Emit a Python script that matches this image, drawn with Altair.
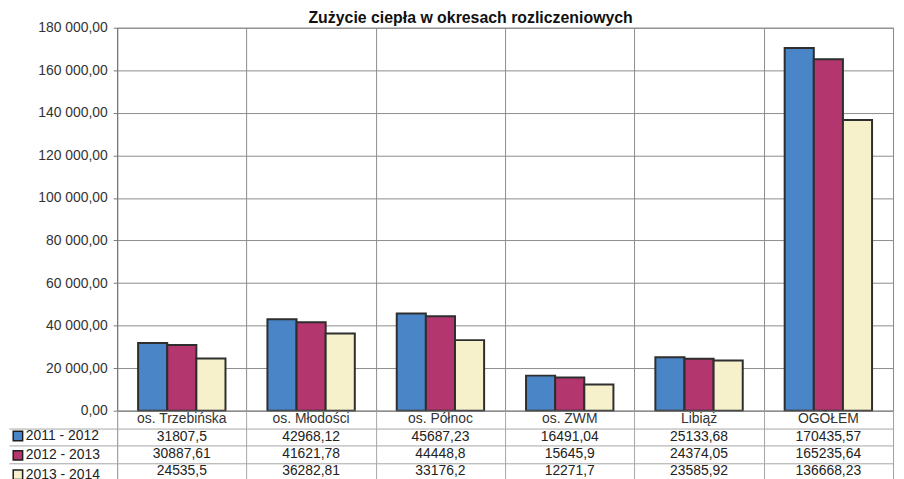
import altair as alt
import pandas as pd

title_text = "Zużycie ciepła w okresach rozliczeniowych"
categories = ["os. Trzebińska", "os. Młodości", "os. Północ", "os. ZWM", "Libiąż", "OGÓŁEM"]
periods = ["2011 - 2012", "2012 - 2013", "2013 - 2014"]
values_2011_2012 = [31807.5, 42968.12, 45687.23, 16491.04, 25133.68, 170435.57]
values_2012_2013 = [30887.61, 41621.78, 44448.8, 15645.9, 24374.05, 165235.64]
values_2013_2014 = [24535.5, 36282.81, 33176.2, 12271.7, 23585.92, 136668.23]
y_ticks = [0, 20000, 40000, 60000, 80000, 100000, 120000, 140000, 160000, 180000]
colors = ["#4A86C7", "#B3366F", "#F6F1CA"]
header_key = "obiekt"

rows = []
for period, vals in zip(periods, [values_2011_2012, values_2012_2013, values_2013_2014]):
    for cat, v in zip(categories, vals):
        rows.append({"obiekt": cat, "okres": period, "wiersz": period, "wartosc": v})
df = pd.DataFrame(rows)
header_df = pd.DataFrame({"obiekt": categories, "wiersz": [header_key] * len(categories)})
row_domain = [header_key] + periods

FONT = "Liberation Sans"
GRID = "#8c8c8c"
LINE = "#a6a6a6"

PLOT_H = 386
ROW_H = 17.5

cat_scale = alt.Scale(domain=categories, paddingInner=0, paddingOuter=0)

bars = alt.Chart(df).mark_bar(stroke="#2e2e2e", strokeWidth=2).encode(
    x=alt.X("obiekt:N", title=None, sort=categories, scale=cat_scale,
            axis=alt.Axis(labels=False, ticks=False, domain=False, grid=True,
                          tickBand="extent", gridColor=GRID, gridOpacity=1)),
    xOffset=alt.XOffset("okres:N", sort=periods,
                        scale=alt.Scale(domain=periods, paddingInner=0, paddingOuter=0.72)),
    y=alt.Y("wartosc:Q", title=None, scale=alt.Scale(domain=[0, 180000], nice=False),
            axis=alt.Axis(values=y_ticks, format=",.2f", labelFontSize=14, labelColor="#333",
                          tickSize=4, tickColor="#777", domainColor="#777",
                          gridColor=GRID, gridOpacity=1, labelPadding=6)),
    color=alt.Color("okres:N", sort=periods, scale=alt.Scale(domain=periods, range=colors),
                    legend=alt.Legend(title=None, orient="none", legendX=-107,
                                      legendY=PLOT_H + ROW_H + 1,
                                      symbolType="square", symbolSize=90,
                                      symbolStrokeColor="#1e1e1e", symbolStrokeWidth=1.5,
                                      labelFontSize=14, labelColor="#222", rowPadding=3.5,
                                      labelOffset=1, padding=0)),
).properties(width=782, height=PLOT_H)

y_rows = alt.Y("wiersz:N", title=None, sort=row_domain,
               scale=alt.Scale(domain=row_domain, paddingInner=0, paddingOuter=0),
               axis=alt.Axis(values=periods, labels=False, domain=False, grid=True,
                             gridColor=LINE, gridOpacity=1,
                             tickBand="extent", tickSize=109, tickColor=LINE))
x_cols = alt.X("obiekt:N", title=None, sort=categories, scale=cat_scale,
               axis=alt.Axis(labels=False, ticks=False, domain=False, grid=True,
                             tickBand="extent", gridColor=LINE, gridOpacity=1))

header_text = alt.Chart(header_df).mark_text(fontSize=14, color="#333").encode(
    x=x_cols, y=y_rows, text="obiekt:N")
value_text = alt.Chart(df).mark_text(fontSize=14, color="#222").encode(
    x=x_cols, y=y_rows, text=alt.Text("wartosc:Q", format=".2~f"))

table = alt.layer(header_text, value_text).properties(width=782, height=ROW_H * 4)

chart = alt.vconcat(
    bars, table, spacing=0, bounds="flush",
    title=alt.TitleParams(title_text, fontSize=16, fontWeight="bold", color="#111",
                          anchor="middle", offset=-6, dx=20),
).configure(
    font=FONT,
    locale={"number": {"decimal": ",", "thousands": " ", "grouping": [3], "currency": ["", ""]}},
).configure_view(stroke=GRID, strokeWidth=1).configure_concat(spacing=0).properties(
    padding={"left": 0, "top": 0, "right": 2, "bottom": 0},
    background="white",
)

chart.save("out.html", embed_options={"renderer": "svg", "actions": False})
